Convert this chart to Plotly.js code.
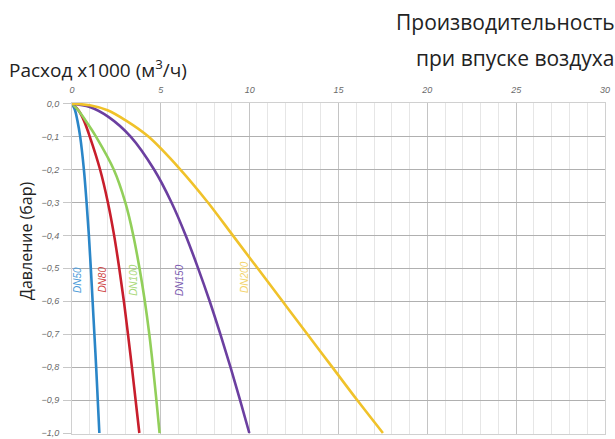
<!DOCTYPE html>
<html>
<head>
<meta charset="utf-8">
<script src="https://cdn.plot.ly/plotly-3.0.1.min.js"></script>
<style>html,body{margin:0;padding:0;background:#fff;}#chart{width:615px;height:439px;}</style>
</head>
<body>
<div id="chart"></div>
<script>
// Pressure (bar) and flow x1000 (m3/h)
const pDN50  = [0, -0.02, -0.05, -0.1, -0.2, -0.3, -0.4, -0.5, -0.6, -0.7, -0.8, -0.9, -1.0];
const qDN50  = [0, 0.17, 0.30, 0.46, 0.67, 0.82, 0.95, 1.06, 1.16, 1.26, 1.36, 1.45, 1.54];
const pDN80  = [0, -0.02, -0.05, -0.1, -0.2, -0.3, -0.4, -0.5, -0.6, -0.7, -0.8, -0.9, -1.0];
const qDN80  = [0, 0.36, 0.66, 1.00, 1.58, 2.02, 2.37, 2.66, 2.92, 3.15, 3.37, 3.58, 3.79];
const pDN100 = [0, -0.02, -0.05, -0.1, -0.2, -0.3, -0.4, -0.5, -0.6, -0.7, -0.8, -0.9, -1.0];
const qDN100 = [0, 0.35, 0.75, 1.35, 2.35, 3.00, 3.45, 3.80, 4.10, 4.35, 4.56, 4.75, 4.93];
const pDN150 = [0, -0.01, -0.04, -0.1, -0.2, -0.3, -0.4, -0.5, -0.6, -0.7, -0.8, -0.9, -1.0];
const qDN150 = [0, 1.0, 2.05, 3.3, 4.62, 5.6, 6.4, 7.1, 7.75, 8.35, 8.92, 9.46, 9.98];
const pDN200 = [0, -0.005, -0.02, -0.05, -0.1, -0.2, -0.3, -0.4, -0.5, -0.6, -0.7, -0.8, -0.9, -1.0];
const qDN200 = [0, 1.0, 2.0, 3.0, 4.3, 6.1, 7.65, 9.05, 10.45, 11.85, 13.25, 14.65, 16.05, 17.5];

const seriesNames = ['DN50', 'DN80', 'DN100', 'DN150', 'DN200'];
const lineColors  = ['#2a86c8', '#c81e2c', '#92cf5a', '#6b3fa0', '#f0c22a'];
const labelColors = ['#4a9ad8', '#d04848', '#a8d878', '#7a5ab0', '#f3d36a'];
// label anchor positions (flow, pressure)
const labelQ = [0.34, 1.73, 3.49, 6.08, 9.72];
const labelP = [-0.535, -0.535, -0.535, -0.535, -0.527];

const xTicks = [0, 5, 10, 15, 20, 25, 30];
const yTicks = [0, -0.1, -0.2, -0.3, -0.4, -0.5, -0.6, -0.7, -0.8, -0.9, -1.0];

const qs = [qDN50, qDN80, qDN100, qDN150, qDN200];
const ps = [pDN50, pDN80, pDN100, pDN150, pDN200];

const traces = seriesNames.map((n, i) => ({
  type: 'scatter', mode: 'lines', name: n,
  x: qs[i], y: ps[i],
  line: {color: lineColors[i], width: 2.6, shape: 'spline', smoothing: 1},
  hoverinfo: 'x+y+name'
}));

const tickFont = {family: 'Liberation Sans, Arial, sans-serif', size: 9, color: '#6a6a6a', style: 'italic'};
const titleFont = {family: 'Open Sans, Noto Sans, sans-serif', color: '#222'};

const annotations = seriesNames.map((n, i) => ({
  x: labelQ[i], y: labelP[i], xref: 'x', yref: 'y',
  text: n, showarrow: false, textangle: -90,
  font: {family: 'Liberation Sans, Arial, sans-serif', size: 10, color: labelColors[i], style: 'italic'}
}));

annotations.push({
  xref: 'paper', yref: 'paper', x: 1.02, y: 1.245, xanchor: 'right', yanchor: 'middle',
  text: 'Производительность', showarrow: false, borderpad: 0, font: Object.assign({size: 21}, titleFont)
});
annotations.push({
  xref: 'paper', yref: 'paper', x: 1.02, y: 1.136, xanchor: 'right', yanchor: 'middle',
  text: 'при впуске воздуха', showarrow: false, borderpad: 0, font: Object.assign({size: 21}, titleFont)
});
annotations.push({
  xref: 'paper', yref: 'paper', x: -0.12, y: 1.102, xanchor: 'left', yanchor: 'middle',
  text: 'Расход x1000 (м<sup>3</sup>/ч)', showarrow: false, borderpad: 0, font: Object.assign({size: 19}, titleFont)
});
annotations.push({
  xref: 'paper', yref: 'paper', x: -0.0863, y: 0.583, xanchor: 'center', yanchor: 'middle',
  text: 'Давление (бар)', textangle: -90, showarrow: false, borderpad: 0, font: Object.assign({size: 16}, titleFont)
});

const layout = {
  width: 615, height: 439,
  margin: {l: 72, r: 10, t: 103, b: 5},
  paper_bgcolor: '#fff', plot_bgcolor: '#fff',
  showlegend: false,
  separators: ', ',
  xaxis: {
    side: 'top', range: [0, 30], tickvals: xTicks, ticktext: xTicks.map(String),
    tickfont: tickFont, ticks: '', ticklabelstandoff: 5,
    showgrid: true, gridcolor: '#c4c4c4', gridwidth: 1,
    minor: {dtick: 1, showgrid: true, gridcolor: '#e6e6e6', gridwidth: 1},
    zeroline: false, showline: true, linecolor: '#d0d0d0', mirror: true,
    fixedrange: true
  },
  yaxis: {
    range: [-1.003, 0.002], tickvals: yTicks, tickformat: '.1f',
    tickfont: tickFont, ticks: 'outside', ticklen: 8, tickcolor: '#c8c8c8', ticklabelstandoff: 2,
    showgrid: true, gridcolor: '#b0b0b0', gridwidth: 1,
    zeroline: false, showline: true, linecolor: '#d0d0d0', mirror: true,
    fixedrange: true
  },
  annotations: annotations
};

Plotly.newPlot('chart', traces, layout, {displayModeBar: false, staticPlot: true});
</script>
</body>
</html>
